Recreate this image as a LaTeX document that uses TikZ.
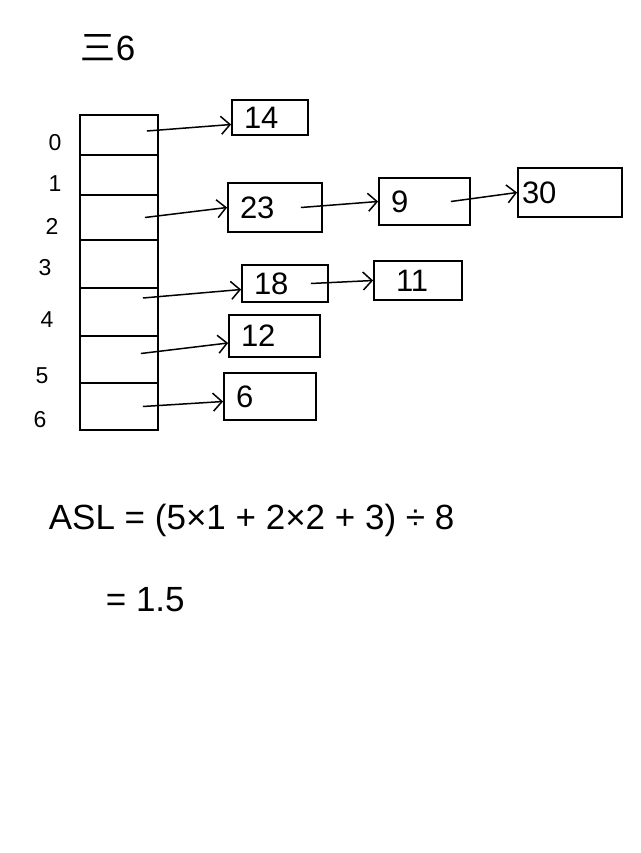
\documentclass[tikz,border=0pt]{standalone}
\usepackage{fontspec}
\setmainfont{Liberation Sans}
\newfontfamily\cjk{Noto Sans CJK SC}
\usetikzlibrary{arrows.meta}

\begin{document}
\begin{tikzpicture}[x=1pt,y=-1pt,line width=1.8pt,
 slot/.style={draw,minimum width=78pt,inner sep=0pt},
 keybox/.style={draw,align=left,inner xsep=12pt,inner ysep=0pt,font=\fontsize{31}{32}\selectfont},
 idx/.style={font=\fontsize{23}{24}\selectfont},
 ptr/.style={line width=1.5pt,-{Straight Barb[length=9pt,width=18pt]}},
 note/.style={anchor=west,inner sep=0pt,font=\fontsize{35}{38}\selectfont}]
 \useasboundingbox (0,0) rectangle (640,853);
 \node[note] (title) at (80,48) {{\cjk 三}6};
 % hash table slots
 \foreach \i/\y/\h in {0/135/40,1/175/40,2/217.5/45,3/264/48,4/312/48,5/359.5/47,6/406.5/47}
  \node[slot,minimum height=\h pt] (s\i) at (119,\y) {};
 \foreach \i/\x/\y in {0/55/143,1/55/184,2/52/226,3/45/268,4/47/320,5/42/376,6/40/420}
  \node[idx] (n\i) at (\x,\y) {\i};
 % chained keys
 \node[keybox,text width=52pt,minimum height=35pt] (k14) at (270,117.5) {14};
 \node[keybox,text width=70pt,minimum height=49pt] (k23) at (275,207.5) {23};
 \node[keybox,text width=67pt,minimum height=47pt] (k9) at (424.5,201.5) {9};
 \node[keybox,text width=96pt,inner xsep=4pt,minimum height=49pt] (k30) at (570,192.5) {30};
 \node[keybox,text width=62pt,minimum height=37pt] (k18) at (285,283.5) {18};
 \node[keybox,text width=44pt,inner xsep=22pt,minimum height=39pt] (k11) at (418,280.5) {11};
 \node[keybox,text width=67pt,minimum height=42pt] (k12) at (274.5,336) {12};
 \node[keybox,text width=68pt,minimum height=47pt] (k6) at (270,396.5) {6};
 \draw[ptr] ([xshift=-12pt,yshift=4pt]s0.east) -- ([yshift=-7pt]k14.west);
 \draw[ptr] ([xshift=-14pt]s2.east) -- (k23.west);
 \draw[ptr] ([xshift=-16pt,yshift=14pt]s4.east) -- ([yshift=-6pt]k18.west);
 \draw[ptr] ([xshift=-18pt,yshift=6pt]s5.east) -- ([yshift=-7pt]k12.west);
 \draw[ptr] ([xshift=-16pt]s6.east) -- ([yshift=-5pt]k6.west);
 \draw[ptr] ([xshift=-22pt]k23.east) -- (k9.west);
 \draw[ptr] ([xshift=-20pt]k9.east) -- (k30.west);
 \draw[ptr] ([xshift=-18pt]k18.east) -- (k11.west);
 \node[note] (asl) at (48,520) {ASL = (5×1 + 2×2 + 3) ÷ 8};
 \node[note] (res) at (105,600) {= 1.5};
\end{tikzpicture}
\end{document}
